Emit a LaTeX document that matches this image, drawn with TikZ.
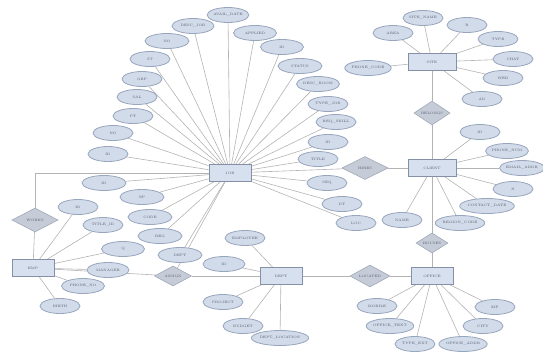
\documentclass[tikz,border=0pt]{standalone}
\usetikzlibrary{shapes.geometric, backgrounds}
\definecolor{attrfill}{HTML}{D2DBEA}
\definecolor{attrline}{HTML}{98A6BD}
\definecolor{entfill}{HTML}{D6E0EE}
\definecolor{entline}{HTML}{8590A6}
\definecolor{relfill}{HTML}{C6CCD7}
\definecolor{relline}{HTML}{A0A8B7}
\definecolor{linkgray}{HTML}{B3B3B3}
\definecolor{txtgray}{HTML}{505868}

\begin{document}
\begin{tikzpicture}[
    x=1pt, y=-1pt,
    every node/.style={font=\fontsize{3.4}{4}\selectfont, text=txtgray, inner sep=0pt},
    attr/.style={ellipse, draw=attrline, fill=attrfill, line width=0.8pt, minimum width=40pt, minimum height=15pt},
    entity/.style={rectangle, draw=entline, fill=entfill, line width=0.7pt, minimum width=42pt, minimum height=17pt},
    rel/.style={diamond, draw=relline, fill=relfill, line width=0.6pt, aspect=1.9, minimum width=40pt, minimum height=22pt},
    link/.style={draw=linkgray, line width=0.6pt}
]
   \useasboundingbox (0,0) rectangle (543,356);

   % Entities
   \node[entity] (job) at (230,173) {JOB};
   \node[entity] (emp) at (33,268) {EMP};
   \node[entity] (dept) at (281,276) {DEPT};
   \node[entity, minimum width=48pt] (site) at (432,62) {SITE};
   \node[entity, minimum width=48pt] (client) at (432,168) {CLIENT};
   \node[entity] (office) at (432,276) {OFFICE};

   % Relationships
   \node[rel, minimum width=46pt, minimum height=24pt] (works) at (35,220) {WORKS};
   \node[rel, minimum width=37pt, minimum height=20pt] (assign) at (173,276) {ASSIGN};
   \node[rel, minimum width=36pt, minimum height=24pt] (belongs) at (432,113) {BELONGS};
   \node[rel, minimum width=46pt, minimum height=23pt] (hires) at (365,168) {HIRES};
   \node[rel, minimum width=32pt, minimum height=20pt] (houses) at (432,243) {HOUSES};
   \node[rel, minimum width=40pt, minimum height=22pt] (located) at (370,276) {LOCATED};

   % Attributes of JOB
   \node[attr] (j1) at (108,154) {ID};
   \node[attr] (j2) at (113,133) {NO};
   \node[attr] (j3) at (133,116) {PT};
   \node[attr] (j4) at (137,97) {SAL};
   \node[attr] (j5) at (142,79) {GRP};
   \node[attr] (j6) at (150,59) {ST};
   \node[attr, minimum width=44pt] (j7) at (167,41) {NO};
   \node[attr, minimum width=42pt] (j8) at (193,26) {DESC\_JOB};
   \node[attr] (j9) at (228,15) {AVAIL\_DATE};
   \node[attr, minimum width=43pt] (j10) at (255,33) {APPLIED};
   \node[attr, minimum width=43pt] (j11) at (282,47) {ID};
   \node[attr, minimum width=44pt] (j12) at (300,66) {STATUS};
   \node[attr, minimum width=43pt] (j13) at (318,84) {DESC\_ROOM};
   \node[attr] (j14) at (328,104) {TYPE\_JOB};
   \node[attr] (j15) at (336,122) {REQ\_SKILL};
   \node[attr] (j16) at (328,142) {ID};
   \node[attr] (j17) at (318,159) {TITLE};
   \node[attr] (j18) at (327,183) {SEQ};
   \node[attr] (j19) at (342,204) {DT};
   \node[attr] (j20) at (356,223) {LOC};
   \node[attr, minimum width=44pt] (j21) at (104,183) {ID};
   \node[attr, minimum width=44pt] (j22) at (142,197) {NP};
   \node[attr, minimum width=44pt] (j23) at (150,217) {CODE};
   \node[attr, minimum width=44pt] (j24) at (160,236) {REG};
   \node[attr, minimum width=44pt] (j25) at (180,255) {DEPT};

   % Attributes of EMP
   \node[attr] (e1) at (78,207) {ID};
   \node[attr] (e2) at (103,225) {TITLE\_ID};
   \node[attr, minimum width=43pt] (e3) at (123,249) {Q};
   \node[attr, minimum width=42pt] (e4) at (108,270) {MANAGER};
   \node[attr, minimum width=43pt] (e5) at (83,286) {PHONE\_NO};
   \node[attr] (e6) at (60,306) {BIRTH};

   % Attributes of DEPT
   \node[attr] (d1) at (245,238) {EMPLOYEE};
   \node[attr, minimum width=42pt] (d2) at (224,264) {ID};
   \node[attr] (d3) at (223,302) {PROJECT};
   \node[attr] (d4) at (243,326) {BUDGET};
   \node[attr] (d5) at (280,338) {DEPT\_LOCATION};

   % Attributes of SITE
   \node[attr] (s1) at (423,18) {SITE\_NAME};
   \node[attr] (s2) at (467,25) {R};
   \node[attr] (s3) at (498,39) {TYPE};
   \node[attr] (s4) at (513,59) {CHAT};
   \node[attr] (s5) at (503,78) {WEB};
   \node[attr] (s6) at (482,99) {AD};
   \node[attr] (s7) at (393,33) {AREA};
   \node[attr] (s8) at (368,68) {PHONE\_CODE};

   % Attributes of CLIENT
   \node[attr] (c1) at (480,132) {ID};
   \node[attr] (c2) at (507,151) {PHONE\_NUM};
   \node[attr] (c3) at (522,168) {EMAIL\_ADDR};
   \node[attr] (c4) at (513,189) {N};
   \node[attr] (c5) at (487,206) {CONTACT\_DATE};
   \node[attr] (c6) at (460,223) {REGION\_CODE};
   \node[attr] (c7) at (402,220) {NAME};

   % Attributes of OFFICE
   \node[attr] (o1) at (377,306) {MOBILE};
   \node[attr] (o2) at (390,326) {OFFICE\_TEXT};
   \node[attr] (o3) at (415,344) {TYPE\_EXT};
   \node[attr] (o4) at (463,344) {OFFICE\_ADDR};
   \node[attr] (o5) at (483,326) {CITY};
   \node[attr] (o6) at (495,307) {ZIP};

   % Connectors
   \begin{pgfonlayer}{background}
   \path[link]
   (job) edge (j1) edge (j2) edge (j3) edge (j4) edge (j5)
         edge (j6) edge (j7) edge (j8) edge (j9) edge (j10)
         edge (j11) edge (j12) edge (j13) edge (j14) edge (j15)
         edge (j16) edge (j17) edge (j18) edge (j19) edge (j20)
         edge (j21) edge (j22) edge (j23) edge (j24) edge (j25)
         edge (assign) edge (hires)

   (emp) edge (e1) edge (e2) edge (e3) edge (e4) edge (e5) edge (e6)
         edge (works) edge (assign)

   (dept) edge (d1) edge (d2) edge (d3) edge (d4) edge (d5)
          edge (assign) edge (located)

   (site) edge (s1) edge (s2) edge (s3) edge (s4)
          edge (s5) edge (s6) edge (s7) edge (s8)
          edge (belongs)

   (client) edge (c1) edge (c2) edge (c3) edge (c4)
            edge (c5) edge (c6) edge (c7)
            edge (belongs) edge (hires) edge (houses)

   (office) edge (o1) edge (o2) edge (o3) edge (o4) edge (o5) edge (o6)
            edge (houses) edge (located);

   \draw[link] (job) -| (works);
   \end{pgfonlayer}

\end{tikzpicture}
\end{document}
